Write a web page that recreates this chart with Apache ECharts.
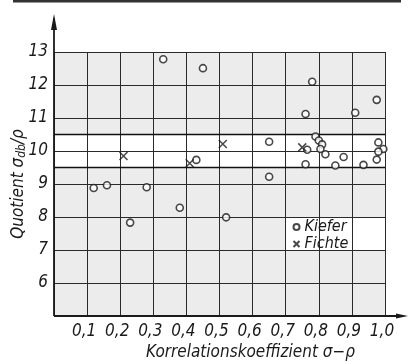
<!DOCTYPE html>
<html>
<head>
<meta charset="utf-8">
<script src="https://cdn.jsdelivr.net/npm/echarts@6/dist/echarts.min.js"></script>
<style>
  html, body { margin: 0; padding: 0; background: #fff; }
  #main { width: 409px; height: 364px; }
</style>
</head>
<body>
<div id="main"></div>
<script>
// Kiefer (o) und Fichte (x): Korrelationskoeffizient / Quotient
var kieferX = [0.12, 0.16, 0.23, 0.28, 0.33, 0.38, 0.43, 0.45, 0.52, 0.65, 0.65, 0.76, 0.765, 0.76, 0.78, 0.79, 0.80, 0.81, 0.805, 0.82, 0.85, 0.875, 0.91, 0.935, 0.975, 0.98, 0.995, 0.98, 0.975];
var kieferY = [8.88, 8.96, 7.83, 8.90, 12.78, 8.28, 9.73, 12.51, 7.99, 10.28, 9.22, 11.12, 10.04, 9.60, 12.10, 10.44, 10.32, 10.20, 10.06, 9.90, 9.56, 9.82, 11.16, 9.58, 11.55, 10.26, 10.06, 9.98, 9.74];
var fichteX = [0.21, 0.41, 0.51, 0.75];
var fichteY = [9.85, 9.63, 10.21, 10.11];
var bandLow = 9.5, bandHigh = 10.5;
var xTicks = ['0,1','0,2','0,3','0,4','0,5','0,6','0,7','0,8','0,9','1,0'];

var FONT = '"DejaVu Sans Condensed", "Liberation Sans Narrow", sans-serif';
var INK = '#1a1a1a';

function pairs(xs, ys){
	var out = [];
	for (var i = 0; i < xs.length; i++) out.push([xs[i], ys[i]]);
	return out;
}

var myChart = echarts.init(document.getElementById('main'));
var option = {
	backgroundColor: '#fff',
	animation: false,
	grid: { left: 54, right: 24, top: 52, bottom: 48, outerBoundsMode: 'none', containLabel: false },
	legend: {
		orient: 'vertical',
		left: 286, top: 214,
		itemGap: 1,
		itemWidth: 12, itemHeight: 6,
		textStyle: { fontFamily: FONT, fontStyle: 'italic', fontSize: 16, color: INK, padding: [0, 0, 0, -3] },
		data: ['Kiefer', 'Fichte']
	},
	xAxis: {
		type: 'value', min: 0, max: 1, interval: 0.1, z: 3,
		name: 'Korrelationskoeffizient σ−ρ',
		nameLocation: 'middle', nameGap: 28, nameMoveOverlap: false,
		nameTextStyle: { fontFamily: FONT, fontStyle: 'italic', fontSize: 17, color: INK, padding: [0, 0, 0, 62] },
		axisLine: { show: false },
		axisTick: { show: false },
		axisLabel: {
			margin: 7, fontFamily: FONT, fontStyle: 'italic', fontSize: 17, color: INK, padding: [0, 6, 0, 0],
			formatter: function (v) {
				var i = Math.round(v * 10);
				return i >= 1 ? xTicks[i - 1] : '';
			}
		},
		splitLine: { show: true, lineStyle: { color: '#2a2a2a', width: 1 } }
	},
	yAxis: {
		type: 'value', min: 5, max: 13, interval: 1, z: 3,
		name: 'Quotient σ{sub|db}/ρ',
		nameLocation: 'middle', nameGap: 26, nameRotate: 90, nameMoveOverlap: false,
		nameTextStyle: {
			fontFamily: FONT, fontStyle: 'italic', fontSize: 17, color: INK,
			rich: { sub: { fontFamily: FONT, fontStyle: 'italic', fontSize: 12, color: INK, padding: [6, 0, 0, 0] } }
		},
		axisLine: { show: false },
		axisTick: { show: false },
		axisLabel: {
			margin: 6, fontFamily: FONT, fontStyle: 'italic', fontSize: 17, color: INK,
			formatter: function (v) { return v > 5 ? String(v) : ''; }
		},
		splitLine: { show: true, lineStyle: { color: '#2a2a2a', width: 1 } }
	},
	series: [
		{
			// Hintergrund: grauer Raster, weißes Band und Legendenfeld
			name: 'bg', type: 'scatter', data: [], z: -5, silent: true,
			markArea: {
				silent: true,
				data: [
					[{ coord: [0, 5], itemStyle: { color: '#ececec' } }, { coord: [1, 13] }],
					[{ coord: [0, bandLow], itemStyle: { color: '#ffffff' } }, { coord: [1, bandHigh] }],
					[{ coord: [0.7, 7], itemStyle: { color: '#ffffff' } }, { coord: [1, 8] }]
				]
			}
		},
		{
			name: 'band', type: 'scatter', data: [], silent: true,
			markLine: {
				silent: true, symbol: 'none', label: { show: false },
				lineStyle: { color: '#111', width: 1.3, type: 'solid' },
				data: [{ yAxis: bandLow }, { yAxis: bandHigh }]
			}
		},
		{
			name: 'Kiefer', type: 'scatter',
			symbol: 'circle', symbolSize: 7, z: 5,
			itemStyle: { color: '#fff', borderColor: INK, borderWidth: 1.6 },
			data: pairs(kieferX, kieferY)
		},
		{
			name: 'Fichte', type: 'scatter',
			symbol: 'path://M0,0L10,10M10,0L0,10', symbolSize: 8, z: 5,
			itemStyle: { color: 'none', borderColor: INK, borderWidth: 1.5 },
			data: pairs(fichteX, fichteY)
		}
	]
};
myChart.setOption(option);

// Achsen mit Pfeilen, oberer Rand
var o = myChart.convertToPixel({ gridIndex: 0 }, [0, 5]);
myChart.setOption({
	graphic: [
		{ type: 'rect', shape: { x: 13, y: 0, width: 388, height: 2.5 }, style: { fill: '#333' }, z: 10 },
		{ type: 'line', shape: { x1: o[0], y1: o[1], x2: o[0], y2: 18 }, style: { stroke: INK, lineWidth: 1.8 }, z: 10 },
		{ type: 'polygon', shape: { points: [[o[0], 14], [o[0] - 3, 30], [o[0] + 3, 30]] }, style: { fill: INK }, z: 10 },
		{ type: 'line', shape: { x1: o[0], y1: o[1], x2: 403, y2: o[1] }, style: { stroke: INK, lineWidth: 1.8 }, z: 10 },
		{ type: 'polygon', shape: { points: [[408, o[1]], [396, o[1] - 2.5], [396, o[1] + 2.5]] }, style: { fill: INK }, z: 10 }
	]
});
</script>
</body>
</html>
